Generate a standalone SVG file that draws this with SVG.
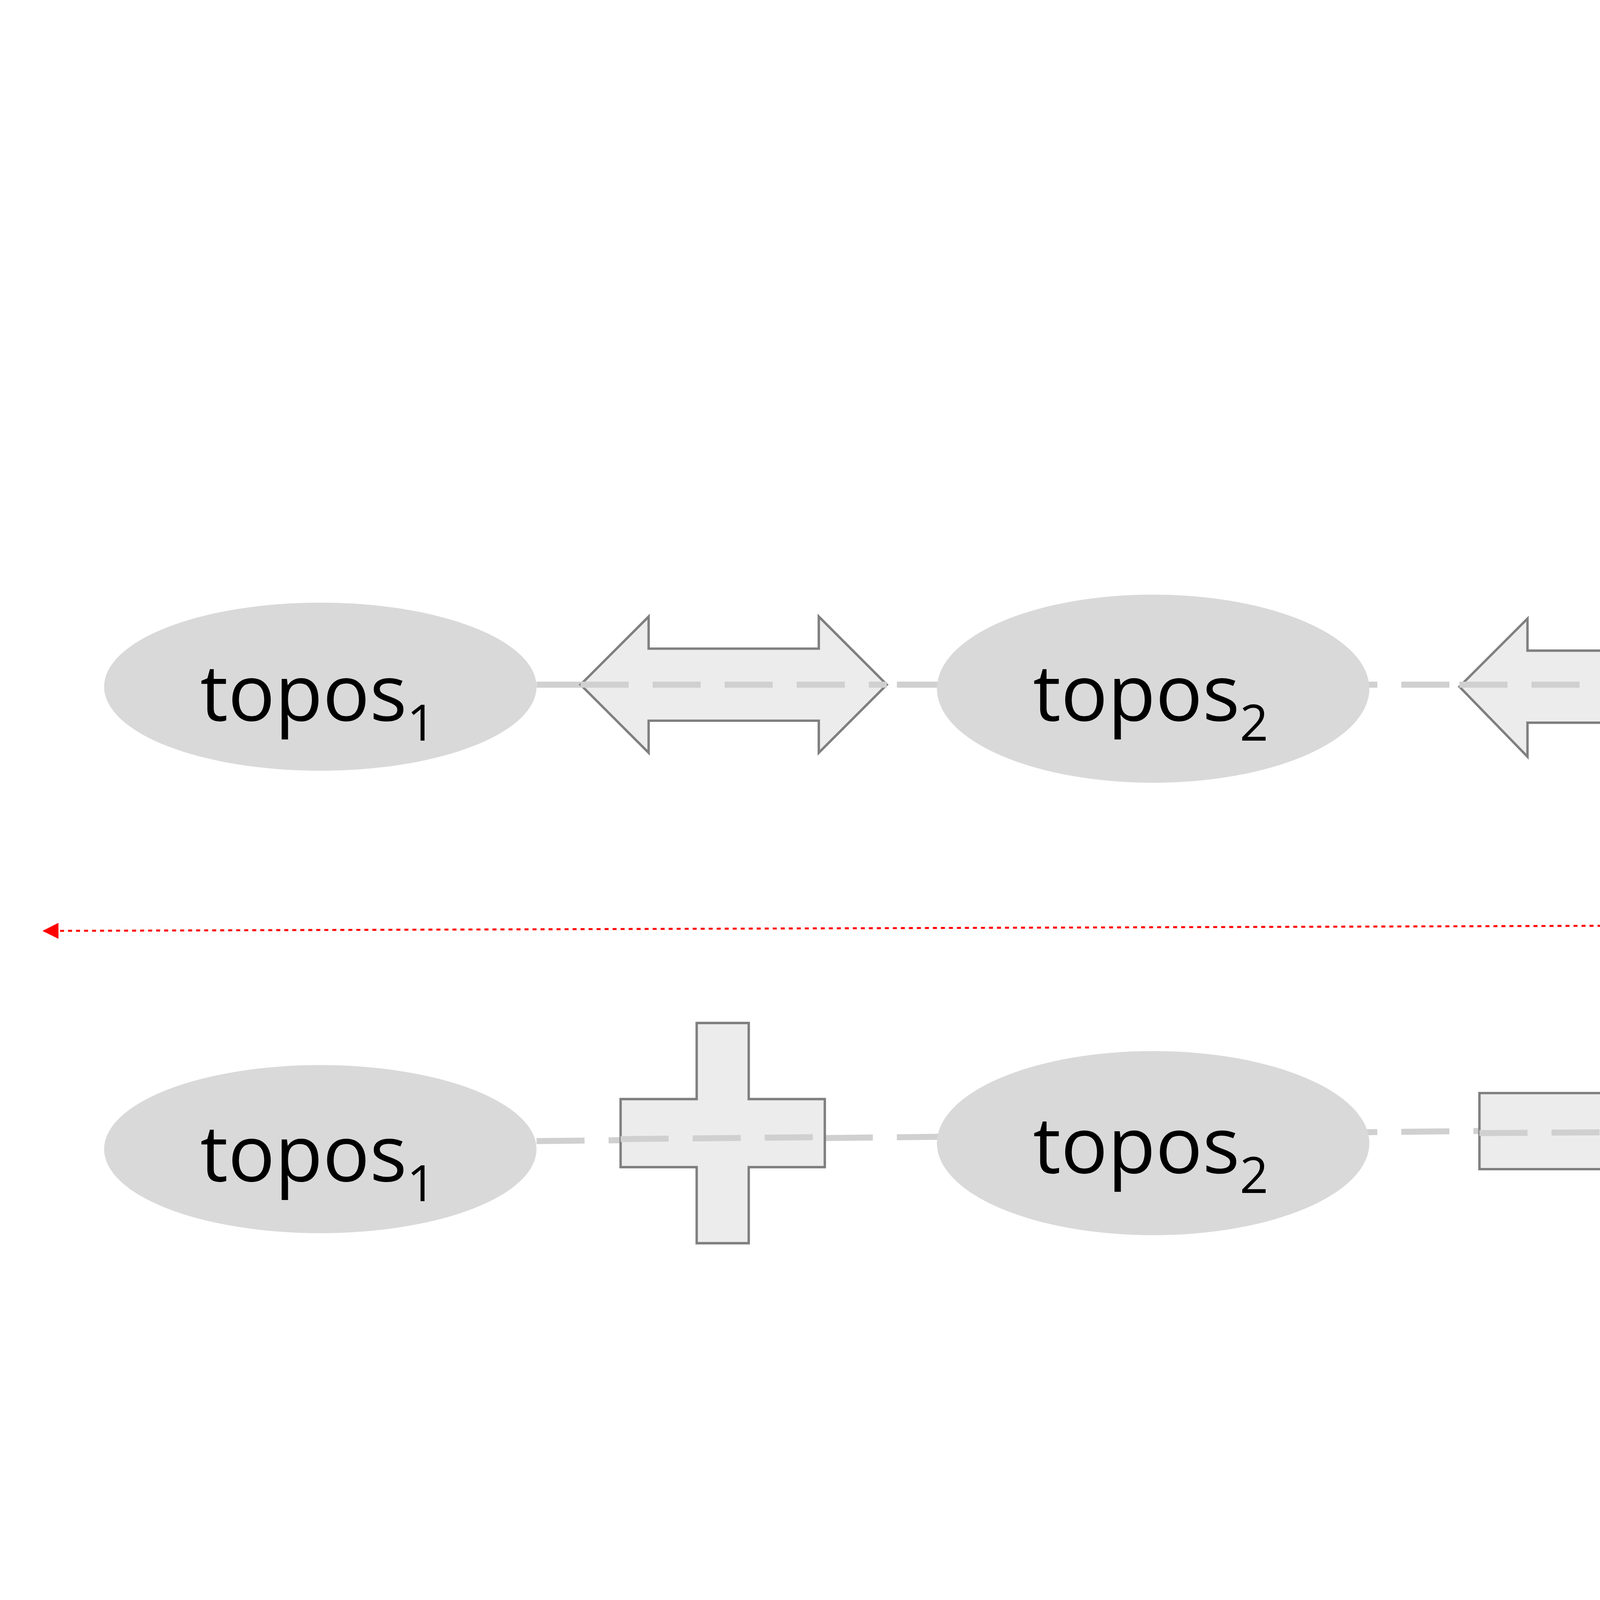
<svg xmlns="http://www.w3.org/2000/svg" width="8000" height="4500" viewBox="0 0 8000 4500">
<style>
.n{fill:#d9d9d9}
.t{font-family:"Open Sans","Liberation Sans",sans-serif;font-size:39px;fill:#000}
.s{font-size:25px}
.d{font-family:"Open Sans","Liberation Sans",sans-serif;font-size:26px;fill:#000}
.dash{stroke:#d0d0d0;stroke-width:3;stroke-dasharray:24 12;fill:none}
.sh{fill:#ececec;stroke:#7f7f7f;stroke-width:1.2}
</style>
<defs>
<marker id="ra" viewBox="0 0 10 10" refX="9" refY="5" markerWidth="8" markerHeight="8" orient="auto-start-reverse" markerUnits="userSpaceOnUse"><path d="M0,0 L10,5 L0,10 z" fill="#ff0000"/></marker>
</defs>
<rect width="8000" height="4500" fill="#fff"/>
<g transform="scale(5.125)">
<g id="connectors">
<line class="dash" x1="268" y1="342" x2="1222" y2="342"/>
<line class="dash" x1="268" y1="570" x2="919" y2="563"/>
<line x1="22" y1="465" x2="1240" y2="461" stroke="#ff0000" stroke-width="1" stroke-dasharray="2 2" marker-start="url(#ra)" marker-end="url(#ra)"/>
<path class="sh" d="M290,342 L324,308 L324,324 L409,324 L409,308 L443,342 L409,376 L409,360 L324,360 L324,376 Z"/>
<path class="sh" d="M729,343 L763,309 L763,325 L848,325 L848,309 L882,343 L848,378 L848,361 L763,361 L763,378 Z"/>
<path class="sh" d="M348,511 L374,511 L374,549 L412,549 L412,583 L374,583 L374,621 L348,621 L348,583 L310,583 L310,549 L348,549 Z"/>
<path class="sh" d="M739,546 L855,546 L855,528 L892,566 L855,604 L855,584 L739,584 Z"/>
<line class="dash" x1="290" y1="342" x2="443" y2="342"/>
<line class="dash" x1="729" y1="342" x2="882" y2="342"/>
<line class="dash" x1="310" y1="569" x2="412" y2="568"/>
<line class="dash" x1="739" y1="566" x2="892" y2="565"/>
</g>
<g id="n1"><ellipse class="n" cx="160" cy="343" rx="108" ry="42"/><text class="t" x="100" y="360">topos<tspan class="s" dy="10">1</tspan></text></g>
<g id="n2"><ellipse class="n" cx="576" cy="344" rx="108" ry="47"/><text class="t" x="516" y="360">topos<tspan class="s" dy="10">2</tspan></text></g>
<g id="n3"><ellipse class="n" cx="1027" cy="351" rx="105" ry="47"/><text class="t" x="968" y="367">topos<tspan class="s" dy="10">n</tspan></text></g>
<g id="n4"><ellipse class="n" cx="160" cy="574" rx="108" ry="42"/><text class="t" x="100" y="590">topos<tspan class="s" dy="10">1</tspan></text></g>
<g id="n5"><ellipse class="n" cx="576" cy="571" rx="108" ry="46"/><text class="t" x="516" y="586">topos<tspan class="s" dy="10">2</tspan></text></g>
<g id="n6"><ellipse class="n" cx="1096" cy="560" rx="174" ry="57"/><text class="t" x="988" y="568">collocation<tspan class="s" dy="10">n</tspan></text></g>
<g id="label1"><text class="d" x="1245" y="282">differentiation of</text><text class="d" x="1245" y="317">distinct concepts as</text><text class="d" x="1245" y="353">elements of a concept</text><text class="d" x="1245" y="388" xml:space="preserve">system  (= <tspan font-style="italic">topology</tspan>)</text></g>
<g id="label2"><text class="d" x="1283" y="510">combination of</text><text class="d" x="1283" y="546">topoi in the</text><text class="d" x="1283" y="581">corpus (= topical</text><text class="d" x="1283" y="616">collocation)</text></g>
</g>
</svg>
